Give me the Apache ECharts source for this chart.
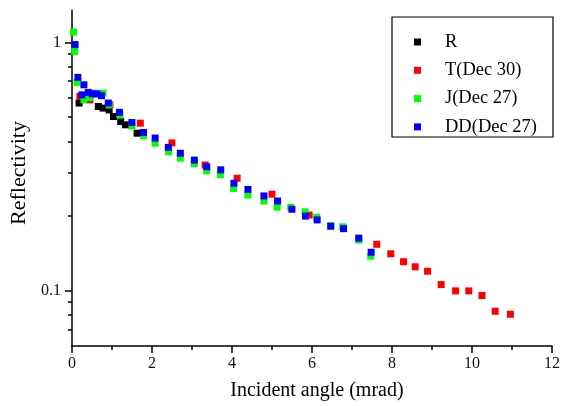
<!DOCTYPE html>
<html>
<head>
<meta charset="utf-8">
<script src="https://cdn.jsdelivr.net/npm/echarts@6/dist/echarts.min.js"></script>
<style>html,body{margin:0;padding:0;background:#fff}#c{width:563px;height:406px}</style>
</head>
<body>
<div id="c"></div>
<script>
// ---- data ----
var seriesNames = ['R', 'T(Dec 30)', 'J(Dec 27)', 'DD(Dec 27)'];
var seriesColors = ['#000000', '#ff0000', '#00ff00', '#0000ff'];

var rX = [0.18, 0.66, 0.78, 0.93, 1.04, 1.22, 1.34, 1.63];
var rY = [0.570, 0.552, 0.544, 0.535, 0.503, 0.480, 0.466, 0.431];

var tX = [0.20, 0.45, 0.95, 1.71, 2.50, 3.33, 4.13, 5.00, 5.93, 7.62, 7.97, 8.29, 8.58, 8.89, 9.23, 9.59, 9.92, 10.25, 10.58, 10.96];
var tY = [0.606, 0.587, 0.561, 0.473, 0.394, 0.321, 0.284, 0.245, 0.202, 0.154, 0.141, 0.131, 0.125, 0.120, 0.106, 0.100, 0.100, 0.0958, 0.0828, 0.0805];

var jX = [0.04, 0.07, 0.13, 0.30, 0.45, 0.60, 0.78, 0.93, 1.20, 1.50, 1.79, 2.08, 2.42, 2.71, 3.06, 3.37, 3.71, 4.04, 4.40, 4.80, 5.13, 5.47, 5.83, 6.12, 6.47, 6.77, 7.17, 7.47];
var jY = [1.10, 0.92, 0.69, 0.587, 0.600, 0.625, 0.625, 0.560, 0.510, 0.461, 0.421, 0.393, 0.363, 0.342, 0.325, 0.304, 0.294, 0.258, 0.243, 0.230, 0.217, 0.217, 0.208, 0.198, 0.183, 0.181, 0.160, 0.138];

var dX = [0.08, 0.15, 0.25, 0.30, 0.41, 0.51, 0.63, 0.74, 0.91, 1.19, 1.50, 1.79, 2.08, 2.41, 2.71, 3.06, 3.37, 3.72, 4.05, 4.40, 4.80, 5.14, 5.50, 5.84, 6.13, 6.47, 6.79, 7.17, 7.48];
var dY = [0.98, 0.723, 0.615, 0.675, 0.629, 0.621, 0.620, 0.610, 0.570, 0.523, 0.476, 0.434, 0.412, 0.378, 0.358, 0.336, 0.316, 0.307, 0.271, 0.256, 0.241, 0.230, 0.213, 0.200, 0.193, 0.182, 0.178, 0.163, 0.143];

var xMin = 0, xMax = 12, xInterval = 2;
var yMin = 0.06, yMax = 1.35;
var yMajorTicks = [0.1, 1];
var yMinorTicks = [0.07, 0.08, 0.09, 0.2, 0.3, 0.4, 0.5, 0.6, 0.7, 0.8, 0.9];

var xName = 'Incident angle (mrad)';
var yName = 'Reflectivity';

// ---- chart ----
function zip(xs, ys) { return xs.map(function (x, i) { return [x, ys[i]]; }); }
var allX = [rX, tX, jX, dX];
var allY = [rY, tY, jY, dY];

var FONT = 'Liberation Serif';
var chart = echarts.init(document.getElementById('c'), null, { renderer: 'canvas' });

var series = seriesNames.map(function (n, i) {
  return {
    name: n,
    type: 'scatter',
    symbol: 'rect',
    symbolSize: 7,
    itemStyle: { color: seriesColors[i], opacity: 1 },
    emphasis: { disabled: true },
    data: zip(allX[i], allY[i]),
    xAxisIndex: 0,
    yAxisIndex: 0,
    z: 2 + i
  };
});

chart.setOption({
  animation: false,
  backgroundColor: '#ffffff',
  grid: { left: 70, right: 7, top: 10, bottom: 60 },
  xAxis: {
    type: 'value',
    min: xMin, max: xMax, interval: xInterval,
    name: xName,
    nameLocation: 'middle',
    nameGap: 35,
    nameTextStyle: { fontFamily: FONT, fontSize: 20, color: '#000', padding: [0, 0, 0, 10] },
    axisLine: { show: true, onZero: false, lineStyle: { color: '#000', width: 1.5 } },
    axisTick: { show: true, inside: false, length: 7, lineStyle: { color: '#000', width: 1.5 } },
    minorTick: { show: true, splitNumber: 2, length: 4, lineStyle: { color: '#000', width: 1.5 } },
    axisLabel: { fontFamily: FONT, fontSize: 16, color: '#111', margin: 10 },
    splitLine: { show: false }
  },
  yAxis: [{
    type: 'log',
    logBase: 10,
    min: yMin, max: yMax,
    name: yName,
    nameLocation: 'middle',
    nameGap: 40,
    nameTextStyle: { fontFamily: FONT, fontSize: 22, color: '#000', padding: [0, 0, 0, 10] },
    axisLine: { show: true, lineStyle: { color: '#000', width: 1.5 } },
    axisTick: { show: true, inside: false, length: 7, customValues: yMajorTicks, lineStyle: { color: '#000', width: 1.5 } },
    axisLabel: {
      fontFamily: FONT, fontSize: 16, color: '#111', margin: 11,
      customValues: yMajorTicks,
      formatter: function (v) { return String(+Number(v).toPrecision(3)); }
    },
    splitLine: { show: false }
  }, {
    type: 'log',
    logBase: 10,
    min: yMin, max: yMax,
    position: 'left',
    axisLine: { show: false },
    axisTick: { show: true, inside: false, length: 4, customValues: yMinorTicks, lineStyle: { color: '#000', width: 1.5 } },
    axisLabel: { show: false },
    splitLine: { show: false }
  }],
  legend: {
    orient: 'vertical',
    left: 414,
    top: 32,
    padding: 0,
    itemGap: 8.3,
    itemWidth: 7,
    itemHeight: 7,
    icon: 'rect',
    selectedMode: false,
    textStyle: { fontFamily: FONT, fontSize: 18.5, color: '#000', lineHeight: 20, padding: [0, 0, 0, 19] },
    data: seriesNames
  },
  graphic: [{
    type: 'rect',
    shape: { x: 392, y: 17, width: 161, height: 120 },
    style: { fill: null, stroke: '#000', lineWidth: 1.2 },
    z: 10
  }],
  series: series
});
</script>
</body>
</html>
